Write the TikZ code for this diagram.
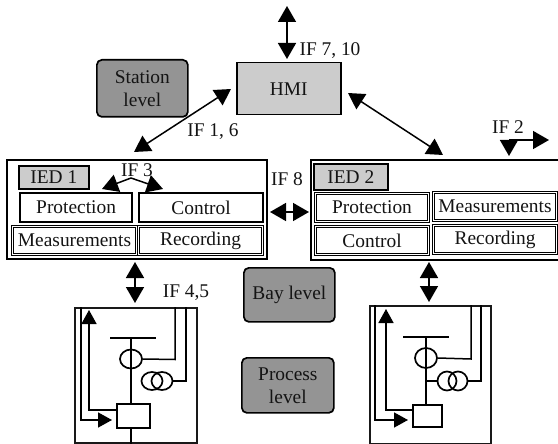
\documentclass[tikz,border=0pt]{standalone}
\usepackage{fontspec}
\setmainfont{Liberation Serif}
\usetikzlibrary{arrows.meta,shapes.geometric}
\definecolor{hmigray}{gray}{0.8}
\definecolor{levelgray}{gray}{0.58}
\newcommand{\dfont}{\fontsize{19.4}{22}\selectfont}
\tikzset{
  x=1pt,y=-1pt,
  txt/.style={font=\dfont,text=black!92,inner sep=0pt,align=center},
  box/.style={draw=black,line width=1.9pt,fill=white,inner sep=0pt,anchor=north west},
  modbox/.style={box,line width=2.2pt,text=black!92,font=\dfont},
  modboxd/.style={modbox,double=white,double distance=0.7pt,line width=1.1pt},
  iedtag/.style={box,fill=hmigray,line width=1.7pt,text=black!92,font=\dfont},
  level/.style={draw=black,line width=1.7pt,fill=levelgray,rounded corners=5pt,inner sep=0pt,anchor=north west,
     text=black!92,font=\dfont,align=center},
  conn/.style={line width=1.5pt,-{Triangle[length=16pt,width=18pt]}},
  biconn/.style={line width=1.5pt,{Triangle[length=16pt,width=18pt]}-{Triangle[length=16pt,width=18pt]}},
  wire/.style={line width=1.5pt,line join=miter},
  wirearrow/.style={wire,-{Triangle[length=14pt,width=15pt]}},
  frame/.style={draw=black!90,line width=1.6pt,fill=white},
  coil/.style={draw=black,line width=1.7pt,ellipse,inner sep=0pt},
}
\begin{document}
\begin{tikzpicture}
\useasboundingbox (0,0) rectangle (558,444);
% levels
\node[level,minimum width=91pt,minimum height=57pt] (station) at (96,59) {Station\\[1pt]level};
\node[level,minimum width=91pt,minimum height=54pt] (bay) at (243,267) {Bay level};
\node[level,minimum width=92pt,minimum height=55pt] (process) at (241,357) {Process\\[1pt]level};
% HMI
\node[box,fill=hmigray,line width=1.5pt,minimum width=104pt,minimum height=52pt,text=black!92,font=\dfont] (hmi) at (236,62) {HMI};
% IED 1
\node[box,minimum width=260pt,minimum height=99pt] (ied1) at (6,159) {};
\node[iedtag,minimum width=70pt,minimum height=23pt] (tag1) at (18,165) {IED 1};
\node[modbox,minimum width=112pt,minimum height=29pt] (prot1) at (19,192) {Protection};
\node[modbox,minimum width=124pt,minimum height=29pt] (ctrl1) at (138,192) {Control};
\node[modboxd,minimum width=124pt,minimum height=28pt] (meas1) at (12,226) {Measurements};
\node[modboxd,minimum width=124pt,minimum height=28pt] (rec1) at (138,226) {Recording};
% IED 2 (runs off the right edge)
\node[box,minimum width=260pt,minimum height=100pt] (ied2) at (310,159) {};
\node[iedtag,minimum width=74pt,minimum height=26pt] (tag2) at (313,163) {IED 2};
\node[modboxd,minimum width=113pt,minimum height=28pt] (prot2) at (315,193) {Protection};
\node[modboxd,minimum width=113pt,minimum height=28pt] (ctrl2) at (315,226) {Control};
\node[modboxd,minimum width=123pt,minimum height=28pt] (meas2) at (433,192) {Measurements};
\node[modboxd,minimum width=123pt,minimum height=28pt] (rec2) at (433,225) {Recording};
% labels
\node[txt] (if710) at (330,51) {IF 7, 10};
\node[txt] (if16) at (213,132) {IF 1, 6};
\node[txt] (if2) at (508,127) {IF 2};
\node[txt] (if3) at (137,170) {IF 3};
\node[txt] (if8) at (287,179) {IF 8};
\node[txt] (if45) at (186,293) {IF 4,5};
% connector ends
\coordinate (hmitop) at (287,6);
\coordinate (hmitopb) at (287,59);
\coordinate (hmil) at (231,89);
\coordinate (ied1t) at (134,152);
\coordinate (hmir) at (348,93);
\coordinate (ied2t) at (443,155);
\coordinate (if3a) at (131,178);
\coordinate (if3l) at (102,189);
\coordinate (if3r) at (163,189);
\coordinate (if2c) at (509,140);
\coordinate (if2d) at (509,156);
\coordinate (if2r) at (549,140);
\coordinate (if8l) at (270,212);
\coordinate (if8r) at (309,212);
\coordinate (i1b) at (135,262);
\coordinate (p1t) at (135,303);
\coordinate (i2b) at (429,262);
\coordinate (p2t) at (429,302);
\draw[biconn] (hmitop) -- (hmitopb);
\draw[biconn] (ied1t) -- (hmil);
\draw[biconn] (hmir) -- (ied2t);
\draw[conn] (if3a) -- (if3l);
\draw[conn] (if3a) -- (if3r);
\draw[conn] (if2c) -- (if2d);
\draw[conn] (if2c) -- (if2r);
\draw[biconn] (if8l) -- (if8r);
\draw[biconn] (i1b) -- (p1t);
\draw[biconn] (i2b) -- (p2t);
% process unit 1
\node[frame,minimum width=122pt,minimum height=135pt,anchor=north west,inner sep=0pt] (pu1) at (74,307) {};
\coordinate (b1l) at (110,338); \coordinate (b1r) at (156,338); \coordinate (b1m) at (131,338);
\draw[line width=2.2pt] (b1l) -- (b1r);
\node[box,line width=2.2pt,minimum width=33pt,minimum height=24pt] (brk1) at (116,403) {};
\draw[wire] (b1m) -- (brk1.north -| b1m);
\draw[wire] (brk1.south -| b1m) -- (pu1.south -| b1m);
\node[coil,fill=none,minimum width=22pt,minimum height=19pt] (ct1) at (131,359) {};
\node[coil,minimum width=21pt,minimum height=18pt] (vt1a) at (152,381) {};
\node[coil,minimum width=21pt,minimum height=18pt] (vt1b) at (162,381) {};
\draw[wire] (ct1.east) -- (175,359.5) -- (175,307);
\draw[wire] (vt1b.east) -- (186,381) -- (186,307);
\draw[wirearrow] (81,307) -- (81,420) -- (112,420);
\draw[wirearrow] (116,410) -- (89,410) -- (89,310);
% process unit 2
\node[frame,minimum width=121pt,minimum height=138pt,anchor=north west,inner sep=0pt] (pu2) at (369,305) {};
\coordinate (b2l) at (403,337); \coordinate (b2r) at (449,337); \coordinate (b2m) at (426,337);
\draw[line width=2.2pt] (b2l) -- (b2r);
\node[box,line width=2.2pt,minimum width=29pt,minimum height=22pt] (brk2) at (412,404) {};
\draw[wire] (b2m) -- (brk2.north -| b2m);
\node[coil,fill=none,minimum width=22pt,minimum height=20pt] (ct2) at (426,358) {};
\node[coil,minimum width=19pt,minimum height=19pt] (vt2a) at (447,381) {};
\node[coil,minimum width=19pt,minimum height=19pt] (vt2b) at (458,381) {};
\draw[wire] (426,381) -- (vt2a.west);
\draw[wire] (ct2.east) -- (471,359) -- (471,305);
\draw[wire] (vt2b.east) -- (481,381) -- (481,305);
\draw[wirearrow] (375,305) -- (375,420) -- (408,420);
\draw[wirearrow] (412,410) -- (386,410) -- (386,309);
\end{tikzpicture}
\end{document}
